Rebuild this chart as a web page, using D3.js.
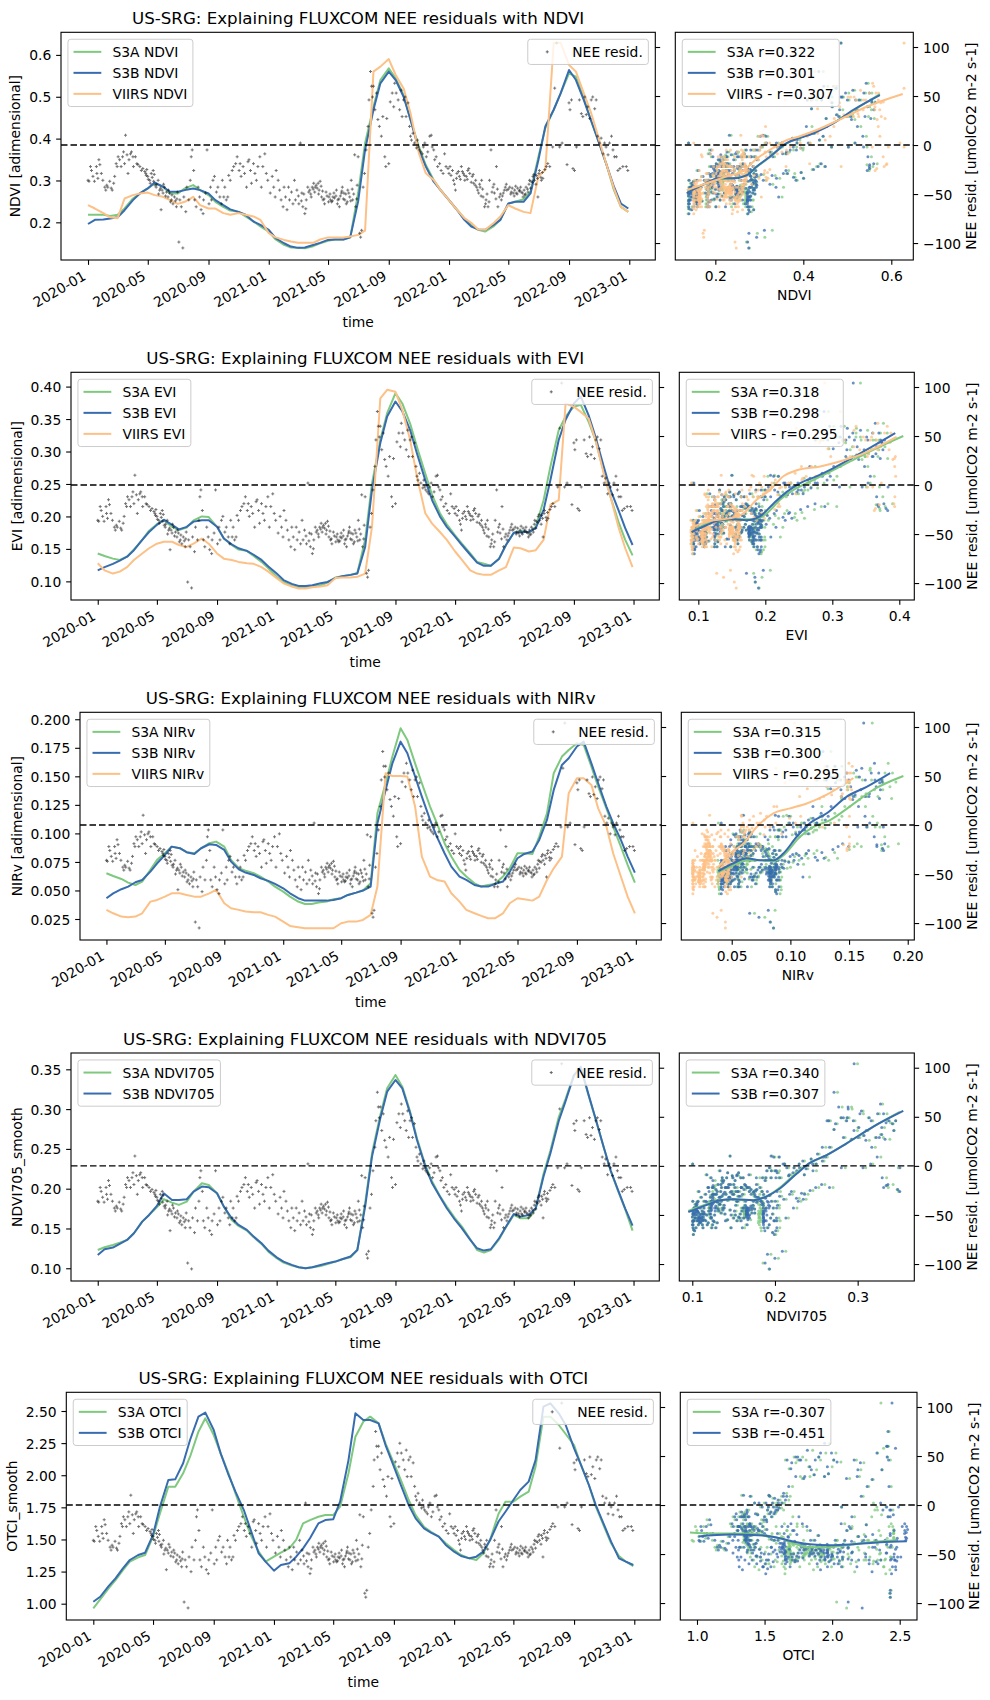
<!DOCTYPE html>
<html>
<head>
<meta charset="utf-8">
<script src="https://cdn.jsdelivr.net/npm/d3@7"></script>
<style>
  body { margin: 0; background: #fff; }
  svg text { font-family: "DejaVu Sans", sans-serif; }
</style>
</head>
<body>
<svg id="chart" width="990" height="1700"></svg>
<script>
// --- data ---
const dates = [
  "2020-01-01","2020-01-15","2020-02-01","2020-02-15","2020-03-01","2020-03-15","2020-04-01","2020-04-15","2020-05-01","2020-05-15","2020-06-01","2020-06-15",
  "2020-07-01","2020-07-15","2020-08-01","2020-08-15","2020-09-01","2020-09-15","2020-10-01","2020-10-15","2020-11-01","2020-11-15","2020-12-01","2020-12-15",
  "2021-01-01","2021-01-15","2021-02-01","2021-02-15","2021-03-01","2021-03-15","2021-04-01","2021-04-15","2021-05-01","2021-05-15","2021-06-01","2021-06-15",
  "2021-07-01","2021-07-15","2021-08-01","2021-08-15","2021-09-01","2021-09-15","2021-10-01","2021-10-15","2021-11-01","2021-11-15","2021-12-01","2021-12-15",
  "2022-01-01","2022-01-15","2022-02-01","2022-02-15","2022-03-01","2022-03-15","2022-04-01","2022-04-15","2022-05-01","2022-05-15","2022-06-01","2022-06-15",
  "2022-07-01","2022-07-15","2022-08-01","2022-08-15","2022-09-01","2022-09-15","2022-10-01","2022-10-15","2022-11-01","2022-11-15","2022-12-01","2022-12-15",
  "2022-12-30"
];
const timeTicks = ["2020-01","2020-05","2020-09","2021-01","2021-05","2021-09","2022-01","2022-05","2022-09","2023-01"];

const ndviS3A = [0.218,0.218,0.218,0.215,0.218,0.233,0.257,0.269,0.281,0.293,0.285,0.269,0.269,0.281,0.289,0.277,0.265,0.249,0.237,0.228,0.225,0.214,0.202,0.190,
  0.178,0.159,0.146,0.140,0.139,0.138,0.143,0.150,0.156,0.159,0.159,0.164,0.270,0.389,0.476,0.540,0.568,0.544,0.504,0.445,0.381,0.337,0.301,0.277,
  0.253,0.233,0.210,0.194,0.182,0.178,0.190,0.206,0.244,0.249,0.255,0.273,0.357,0.425,0.469,0.508,0.556,0.548,0.496,0.445,0.389,0.341,0.277,0.237,0.225];
const ndviS3B = [0.196,0.206,0.207,0.209,0.212,0.229,0.253,0.269,0.281,0.295,0.285,0.273,0.273,0.277,0.281,0.277,0.269,0.253,0.241,0.231,0.225,0.218,0.202,0.194,
  0.182,0.162,0.150,0.142,0.139,0.140,0.146,0.151,0.158,0.159,0.159,0.164,0.250,0.373,0.469,0.532,0.560,0.540,0.500,0.445,0.373,0.333,0.297,0.277,
  0.253,0.233,0.206,0.190,0.183,0.182,0.194,0.206,0.245,0.249,0.249,0.269,0.349,0.429,0.469,0.508,0.564,0.540,0.492,0.445,0.389,0.341,0.285,0.245,0.233];
const ndviVIIRS = [0.241,0.233,0.222,0.212,0.210,0.257,0.265,0.269,0.271,0.265,0.261,0.253,0.244,0.249,0.261,0.241,0.233,0.233,0.222,0.218,0.222,0.218,0.214,0.206,
  0.174,0.164,0.158,0.154,0.151,0.151,0.151,0.159,0.164,0.164,0.164,0.166,0.170,0.180,0.560,0.572,0.590,0.552,0.520,0.461,0.365,0.317,0.301,0.277,
  0.253,0.233,0.210,0.199,0.183,0.182,0.198,0.214,0.241,0.233,0.225,0.222,0.310,0.325,0.629,0.629,0.576,0.560,0.508,0.464,0.397,0.341,0.281,0.237,0.225];

const eviS3A = [0.143,0.139,0.135,0.133,0.138,0.149,0.164,0.178,0.188,0.194,0.184,0.179,0.183,0.194,0.200,0.199,0.184,0.166,0.156,0.149,0.147,0.139,0.130,0.120,
  0.107,0.099,0.093,0.091,0.091,0.092,0.094,0.098,0.106,0.108,0.110,0.113,0.164,0.251,0.318,0.359,0.390,0.374,0.343,0.307,0.266,0.233,0.205,0.188,
  0.171,0.158,0.143,0.130,0.127,0.124,0.135,0.156,0.175,0.178,0.175,0.184,0.225,0.277,0.333,0.354,0.369,0.372,0.346,0.318,0.269,0.230,0.192,0.164,0.140];
const eviS3B = [0.117,0.122,0.127,0.132,0.138,0.148,0.164,0.176,0.187,0.195,0.187,0.180,0.184,0.192,0.194,0.194,0.184,0.166,0.157,0.151,0.147,0.141,0.133,0.123,
  0.112,0.102,0.096,0.093,0.093,0.094,0.097,0.099,0.105,0.108,0.110,0.112,0.153,0.241,0.313,0.354,0.377,0.362,0.333,0.297,0.256,0.225,0.200,0.184,
  0.169,0.156,0.141,0.129,0.124,0.124,0.135,0.156,0.175,0.176,0.176,0.182,0.210,0.256,0.318,0.349,0.374,0.385,0.356,0.323,0.277,0.241,0.210,0.182,0.156];
const eviVIIRS = [0.128,0.117,0.112,0.115,0.122,0.133,0.143,0.151,0.158,0.161,0.161,0.156,0.153,0.158,0.166,0.158,0.143,0.135,0.133,0.130,0.128,0.127,0.122,0.115,
  0.105,0.097,0.092,0.089,0.089,0.091,0.092,0.094,0.105,0.106,0.106,0.107,0.112,0.184,0.382,0.395,0.392,0.364,0.318,0.261,0.205,0.189,0.176,0.164,
  0.146,0.133,0.117,0.112,0.110,0.110,0.117,0.122,0.152,0.151,0.146,0.148,0.164,0.218,0.225,0.374,0.369,0.361,0.351,0.318,0.266,0.230,0.184,0.151,0.122];

const nirvS3A = [0.0651,0.0627,0.0601,0.0569,0.0548,0.0578,0.0680,0.0768,0.0826,0.0884,0.0870,0.0835,0.0826,0.0870,0.0914,0.0928,0.0884,0.0768,0.0695,0.0674,0.0651,0.0622,0.0578,0.0534,
  0.0490,0.0446,0.0403,0.0382,0.0382,0.0394,0.0403,0.0423,0.0432,0.0461,0.0481,0.0499,0.0563,0.1176,0.1439,0.1673,0.1921,0.1819,0.1614,0.1439,0.1235,0.1089,0.0914,0.0797,
  0.0680,0.0622,0.0563,0.0534,0.0548,0.0557,0.0622,0.0695,0.0826,0.0826,0.0820,0.0972,0.1176,0.1527,0.1673,0.1731,0.1790,0.1775,0.1585,0.1410,0.1220,0.1060,0.0884,0.0724,0.0569];
const nirvS3B = [0.0432,0.0475,0.0511,0.0534,0.0572,0.0592,0.0665,0.0738,0.0811,0.0884,0.0870,0.0835,0.0820,0.0870,0.0905,0.0899,0.0855,0.0753,0.0686,0.0657,0.0636,0.0607,0.0584,0.0557,
  0.0519,0.0475,0.0432,0.0411,0.0411,0.0411,0.0411,0.0417,0.0432,0.0461,0.0481,0.0499,0.0534,0.1089,0.1381,0.1614,0.1804,0.1702,0.1498,0.1322,0.1118,0.0972,0.0826,0.0709,
  0.0622,0.0592,0.0548,0.0534,0.0534,0.0557,0.0578,0.0665,0.0782,0.0820,0.0841,0.0943,0.1118,0.1381,0.1600,0.1658,0.1761,0.1804,0.1614,0.1439,0.1235,0.1089,0.0943,0.0797,0.0657];
const nirvVIIRS = [0.0330,0.0300,0.0271,0.0265,0.0271,0.0300,0.0402,0.0417,0.0446,0.0475,0.0475,0.0461,0.0446,0.0446,0.0475,0.0505,0.0388,0.0344,0.0330,0.0315,0.0309,0.0309,0.0286,0.0271,
  0.0227,0.0189,0.0178,0.0169,0.0169,0.0169,0.0169,0.0169,0.0213,0.0227,0.0227,0.0242,0.0286,0.0534,0.1527,0.1503,0.1503,0.1498,0.1235,0.0797,0.0622,0.0592,0.0578,0.0475,
  0.0402,0.0330,0.0300,0.0277,0.0256,0.0256,0.0300,0.0388,0.0432,0.0423,0.0411,0.0446,0.0592,0.0694,0.0797,0.1352,0.1483,0.1483,0.1425,0.1220,0.1060,0.0826,0.0622,0.0446,0.0300];

const n705S3A = [0.1230,0.1264,0.1293,0.1322,0.1356,0.1440,0.1586,0.1670,0.1766,0.1867,0.1825,0.1796,0.1837,0.1963,0.2068,0.2047,0.1942,0.1775,0.1607,0.1532,0.1473,0.1389,0.1306,0.1209,
  0.1126,0.1071,0.1033,0.1013,0.1000,0.1013,0.1029,0.1054,0.1084,0.1113,0.1138,0.1230,0.1817,0.2445,0.2926,0.3261,0.3429,0.3282,0.2968,0.2633,0.2298,0.2089,0.1909,0.1775,
  0.1628,0.1523,0.1364,0.1230,0.1197,0.1230,0.1364,0.1515,0.1670,0.1628,0.1628,0.1754,0.2190,0.2480,0.2900,0.3130,0.3430,0.3513,0.3170,0.2880,0.2520,0.2230,0.1960,0.1740,0.1473];
const n705S3B = [0.1167,0.1239,0.1260,0.1306,0.1356,0.1440,0.1586,0.1670,0.1783,0.1942,0.1858,0.1858,0.1867,0.1963,0.2026,0.2018,0.1942,0.1775,0.1628,0.1544,0.1482,0.1398,0.1314,0.1222,
  0.1138,0.1084,0.1042,0.1013,0.1000,0.1013,0.1042,0.1063,0.1084,0.1113,0.1147,0.1230,0.1775,0.2403,0.2884,0.3219,0.3366,0.3261,0.2947,0.2612,0.2277,0.2068,0.1900,0.1754,
  0.1607,0.1502,0.1356,0.1251,0.1222,0.1239,0.1377,0.1523,0.1683,0.1649,0.1670,0.1754,0.2157,0.2445,0.2850,0.3100,0.3420,0.3533,0.3182,0.2889,0.2520,0.2231,0.1972,0.1750,0.1536];

const otciS3A = [0.964,1.034,1.119,1.184,1.262,1.327,1.361,1.379,1.522,1.703,1.911,1.911,2.015,2.144,2.339,2.443,2.313,2.170,2.015,1.859,1.677,1.535,1.405,1.327,
  1.366,1.397,1.431,1.496,1.625,1.651,1.677,1.690,1.690,1.755,2.015,2.300,2.417,2.456,2.404,2.248,2.093,1.963,1.807,1.690,1.599,1.560,1.522,1.470,
  1.418,1.379,1.353,1.340,1.392,1.500,1.700,1.794,1.794,1.833,1.872,2.067,2.456,2.456,2.391,2.321,2.235,2.080,1.924,1.755,1.599,1.470,1.371,1.327,1.293];
const otciS3B = [1.015,1.054,1.137,1.197,1.275,1.340,1.379,1.397,1.535,1.755,1.963,1.968,2.093,2.274,2.456,2.487,2.352,2.170,2.002,1.872,1.729,1.573,1.392,1.327,
  1.257,1.301,1.314,1.366,1.431,1.509,1.625,1.651,1.657,1.794,2.118,2.482,2.430,2.430,2.404,2.235,2.067,1.924,1.768,1.664,1.586,1.553,1.522,1.457,
  1.405,1.371,1.353,1.366,1.405,1.496,1.640,1.716,1.807,1.885,1.950,2.118,2.534,2.560,2.482,2.391,2.209,2.080,1.924,1.768,1.612,1.483,1.353,1.327,1.301];

// NEE residuals: [days since 2020-01-01, umolCO2 m-2 s-1]
const neeResid = [
  [0,-36],[2,-37],[5,-22],[7,-26],[10,-32],[13,-37],[17,-22],[18,-29],[20,-34],[22,-15],[24,-20],
  [27,-29],[30,-36],[34,-43],[36,-46],[38,-41],[40,-43],[44,-37],[47,-44],[49,-46],[52,-39],[54,-32],
  [57,-19],[59,-22],[61,-12],[64,-15],[67,-22],[70,-12],[72,-7],[74,-19],[76,10],[79,-10],[81,-29],[83,-15],
  [86,-9],[88,-7],[91,-12],[92,-22],[96,-12],[99,-19],[101,-20],[105,-22],[108,-26],[111,-24],[115,-27],[117,-29],
  [118,-31],[121,-32],[125,-36],[128,-29],[132,-26],[133,-37],[136,-41],[138,-43],[142,-36],[145,-46],[148,-66],[150,-46],
  [152,-49],[155,-43],[159,-48],[162,-53],[165,-49],[169,-56],[172,-60],[175,-53],[179,-63],[181,-48],
  [184,-99],[186,-56],[189,-63],[192,-105],[194,-53],[198,-68],[200,-43],[204,-56],[207,-36],[209,-12],[211,-5],
  [214,-26],[216,-56],[219,-63],[223,-43],[226,-53],[229,-66],[233,-70],[234,-56],[238,-49],[241,-5],
  [245,-60],[248,-43],[250,-56],[253,-36],[256,-32],[260,-48],[263,-43],[267,-53],[270,-60],[272,-36],
  [275,-53],[277,-43],[280,-56],[283,-53],[285,-31],[288,-36],[292,-26],[295,-22],[299,-19],[302,-12],
  [306,-26],[308,-19],[310,-32],[314,-22],[317,-29],[321,-43],[324,-17],[326,-15],[329,-26],[331,-39],
  [335,-19],[338,-29],[341,-36],[344,-22],[348,-12],[351,-43],[354,-22],[358,-9],[361,-29],[364,-36],
  [369,-49],[373,-32],[376,-43],[379,-53],[381,-26],[385,-36],[388,-46],[391,-56],[395,-63],[397,-43],
  [400,-53],[403,-66],[406,-43],[408,-56],[412,-48],[415,-60],[418,-36],[420,-56],[423,-46],
  [427,-60],[430,2],[433,-49],[435,-63],[439,-70],[442,-56],[445,-43],[449,-46],[452,-53],[454,-43],
  [457,-39],[460,-43],[462,-41],[466,-39],[468,-46],[470,-37],[473,-53],[476,-56],[479,-60],[482,-48],
  [488,-53],[491,-56],[493,-58],[496,-53],[499,-54],[503,-46],[506,-56],[509,-63],[513,-49],[515,-43],
  [518,-49],[520,-56],[523,-60],[526,-46],[530,-53],[533,-36],[536,-56],[540,-10],[542,-63],[545,-41],
  [547,-12],[550,-90],[552,-94],[554,-87],[557,-43],[560,-29],[563,-5],[567,19],[569,46],[572,75],
  [574,60],[576,49],[578,60],[581,36],[584,53],[587,26],[590,19],[594,9],[597,29],[601,-12],[603,-22],[605,27],
  [609,-19],[612,44],[616,53],[619,39],[621,63],[624,53],[628,46],[631,36],[634,56],[636,29],
  [639,46],[642,49],[644,29],[648,43],[651,19],[653,9],[655,5],[658,12],[661,2],[665,-3],[667,5],
  [669,-2],[671,-5],[674,-7],[677,-9],[679,-2],[682,2],[685,-12],[688,-7],[692,9],[695,10],[697,-2],
  [700,-5],[702,-15],[705,-12],[708,-22],[712,-19],[715,-26],[719,-29],[722,-9],[725,-22],
  [731,-29],[733,-22],[738,-26],[740,-36],[744,-46],[747,-29],[752,-32],[756,-22],
  [760,-29],[763,-36],[766,-32],[769,-26],[773,-29],[778,-32],[781,-39],[785,-36],[787,-43],
  [791,-49],[794,-43],[797,-36],[800,-53],[803,-63],[806,-56],[810,-63],[813,-36],[816,-5],
  [820,-43],[823,-49],[827,-22],[830,-63],[833,-53],[837,-56],[841,-49],[845,-43],[848,-46],
  [854,-43],[857,-48],[861,-49],[864,-46],[867,-49],[870,-44],[874,-46],[877,-48],[881,-53],[884,-51],[887,-43],
  [891,-48],[894,-36],[897,-37],[901,-32],[904,-36],[908,-31],[911,-53],[914,-26],[918,-36],[921,-34],
  [928,-22],[931,-19],[935,-22],[941,-2],[945,58],[949,104],[955,-2],[960,2],[970,-20],[974,43],[976,36],[979,46],[982,-24],[985,-26],[989,-2],
  [995,46],[999,32],[1002,29],[1006,49],[1009,31],[1012,39],[1016,27],[1019,46],[1022,49],[1026,37],[1029,46],
  [1032,9],[1036,2],[1039,7],[1043,-9],[1046,2],[1049,-2],[1053,-10],[1056,2],[1060,9],[1063,-5],[1066,-12],[1070,-12],[1073,-26],[1077,-24],[1083,-22],[1090,-22],[1093,-26],
  // denser parts of the cloud
  [426,-52],[432,-57],[437,-50],[441,-65],[447,-48],[451,-50],[456,-45],[459,-48],[464,-44],[467,-50],[472,-42],[475,-47],[478,-55],[484,-52],
  [487,-58],[490,-50],[495,-57],[498,-49],[502,-52],[505,-60],[508,-55],[511,-52],[514,-47],[517,-55],[522,-50],[525,-58],[528,-49],[532,-57],[535,-45],[538,-50],[544,-55],
  [729,-24],[735,-31],[742,-40],[746,-34],[750,-27],[754,-35],[758,-27],[762,-31],[768,-35],[771,-24],[776,-38],[780,-30],[784,-41],[789,-46],
  [793,-40],[796,-52],[799,-45],[805,-60],[808,-50],[812,-58],[818,-48],[822,-40],[826,-55],[829,-45],[835,-50],[839,-52],[843,-46],[847,-40],
  [851,-45],[856,-50],[859,-44],[863,-52],[866,-42],[869,-50],[873,-47],[876,-43],[880,-49],[883,-46],[886,-50],[890,-45],[893,-40],[896,-44],
  [900,-38],[903,-30],[907,-40],[910,-34],[913,-29],[917,-33],[920,-28],[925,-25],
  [119,-25],[122,-35],[126,-39],[130,-33],[134,-30],[139,-40],[143,-50],[147,-44],[153,-40],[157,-52],[163,-46],[167,-58],[170,-51],[177,-57],[180,-55]
];
const neeDomain = [-117.3, 115];
const neeTicks = [-100, -50, 0, 50, 100];

// smoothed fits in the scatter panels: [index value, NEE resid]
const fitNdviS3A = [[0.137,-48],[0.165,-42],[0.21,-35],[0.24,-34],[0.27,-31],[0.295,-22],[0.325,-12],[0.36,1],[0.39,7],[0.42,12],[0.47,23],[0.52,37],[0.574,52]];
const fitNdviS3B = [[0.135,-49],[0.165,-42],[0.211,-34],[0.241,-34],[0.271,-31],[0.294,-22],[0.324,-12],[0.362,2],[0.392,7],[0.423,12],[0.468,22],[0.514,36],[0.574,51]];
const fitNdviVIIRS = [[0.135,-46],[0.18,-39],[0.226,-32],[0.264,-26],[0.294,-14],[0.324,-5],[0.362,5],[0.392,9],[0.423,14],[0.483,26],[0.544,39],[0.626,52]];
const fitEviS3A = [[0.090,-48],[0.122,-37],[0.152,-35],[0.182,-35],[0.202,-29],[0.222,-15],[0.242,-5],[0.262,2],[0.292,12],[0.321,22],[0.361,36],[0.406,50]];
const fitEviS3B = [[0.090,-48],[0.112,-41],[0.132,-36],[0.152,-35],[0.172,-36],[0.192,-32],[0.212,-19],[0.232,-7],[0.252,2],[0.277,9],[0.301,17],[0.341,32],[0.394,53]];
const fitEviVIIRS = [[0.090,-43],[0.122,-36],[0.147,-34],[0.167,-29],[0.187,-15],[0.207,-5],[0.227,9],[0.247,15],[0.282,19],[0.311,24],[0.346,32],[0.396,49]];
const fitNirvS3A = [[0.0386,-48],[0.0514,-41],[0.0628,-36],[0.0741,-36],[0.0855,-37],[0.094,-31],[0.1082,-12],[0.1196,-2],[0.1338,5],[0.1509,19],[0.1707,36],[0.1963,50]];
const fitNirvS3B = [[0.0386,-47],[0.0514,-39],[0.0628,-34],[0.0741,-36],[0.0855,-36],[0.094,-29],[0.1054,-12],[0.1168,2],[0.131,12],[0.148,29],[0.165,39],[0.185,53]];
const fitNirvVIIRS = [[0.0386,-43],[0.0486,-29],[0.0599,-19],[0.0713,-2],[0.0855,12],[0.0997,17],[0.1139,22],[0.131,31],[0.1537,48]];
const fitN705S3A = [[0.0952,-46],[0.117,-39],[0.1335,-35],[0.1496,-34],[0.1738,-35],[0.19,-31],[0.206,-22],[0.2262,-7],[0.2423,3],[0.2625,11],[0.2867,23],[0.319,40],[0.351,55]];
const fitN705S3B = [[0.0952,-47],[0.117,-40],[0.1335,-35],[0.1496,-34],[0.1738,-35],[0.19,-31],[0.206,-23],[0.2262,-8],[0.2423,3],[0.2625,11],[0.2867,23],[0.319,40],[0.3552,56]];
const fitOtciS3A = [[0.948,-28],[1.121,-29],[1.368,-29],[1.516,-31],[1.615,-34],[1.714,-39],[1.812,-43],[1.96,-43],[2.109,-41],[2.281,-38],[2.479,-36]];
const fitOtciS3B = [[1.01,-32],[1.244,-30],[1.491,-31],[1.615,-34],[1.738,-38],[1.837,-40],[1.985,-41],[2.158,-40],[2.356,-38],[2.553,-37]];

// --- style / layout ---
const FS = 13.89, FONT = "DejaVu Sans", TICK = 4.86;
const GREEN = "#7fc97f", BLUE = "#386cb0", ORANGE = "#fdc086";

const panels = [
  { idx: "NDVI", yLabel: "NDVI [adimensional]", yDomain: [0.110, 0.654], yTicks: [0.2,0.3,0.4,0.5,0.6], yFmt: ".1f",
    sDomain: [0.109, 0.65], sTicks: [0.2,0.4,0.6], sFmt: ".1f",
    series: [
      { label: "S3A NDVI", values: ndviS3A, color: GREEN, fit: fitNdviS3A, fitLabel: "S3A r=0.322" },
      { label: "S3B NDVI", values: ndviS3B, color: BLUE, fit: fitNdviS3B, fitLabel: "S3B r=0.301" },
      { label: "VIIRS NDVI", values: ndviVIIRS, color: ORANGE, fit: fitNdviVIIRS, fitLabel: "VIIRS - r=0.307" } ] },
  { idx: "EVI", yLabel: "EVI [adimensional]", yDomain: [0.0713, 0.422], yTicks: [0.10,0.15,0.20,0.25,0.30,0.35,0.40], yFmt: ".2f",
    sDomain: [0.0716, 0.4224], sTicks: [0.1,0.2,0.3,0.4], sFmt: ".1f",
    series: [
      { label: "S3A EVI", values: eviS3A, color: GREEN, fit: fitEviS3A, fitLabel: "S3A r=0.318" },
      { label: "S3B EVI", values: eviS3B, color: BLUE, fit: fitEviS3B, fitLabel: "S3B r=0.298" },
      { label: "VIIRS EVI", values: eviVIIRS, color: ORANGE, fit: fitEviVIIRS, fitLabel: "VIIRS - r=0.295" } ] },
  { idx: "NIRv", yLabel: "NIRv [adimensional]", yDomain: [0.0066, 0.2061], yTicks: [0.025,0.05,0.075,0.1,0.125,0.15,0.175,0.2], yFmt: ".3f",
    sDomain: [0.00703, 0.2056], sTicks: [0.05,0.10,0.15,0.20], sFmt: ".2f",
    series: [
      { label: "S3A NIRv", values: nirvS3A, color: GREEN, fit: fitNirvS3A, fitLabel: "S3A r=0.315" },
      { label: "S3B NIRv", values: nirvS3B, color: BLUE, fit: fitNirvS3B, fitLabel: "S3B r=0.300" },
      { label: "VIIRS NIRv", values: nirvVIIRS, color: ORANGE, fit: fitNirvVIIRS, fitLabel: "VIIRS - r=0.295" } ] },
  { idx: "NDVI705", yLabel: "NDVI705_smooth", yDomain: [0.084, 0.3705], yTicks: [0.10,0.15,0.20,0.25,0.30,0.35], yFmt: ".2f",
    sDomain: [0.0843, 0.3685], sTicks: [0.1,0.2,0.3], sFmt: ".1f",
    series: [
      { label: "S3A NDVI705", values: n705S3A, color: GREEN, fit: fitN705S3A, fitLabel: "S3A r=0.340" },
      { label: "S3B NDVI705", values: n705S3B, color: BLUE, fit: fitN705S3B, fitLabel: "S3B r=0.307" } ] },
  { idx: "OTCI", yLabel: "OTCI_smooth", yDomain: [0.873, 2.6456], yTicks: [1.0,1.25,1.5,1.75,2.0,2.25,2.5], yFmt: ".2f",
    sDomain: [0.8765, 2.628], sTicks: [1.0,1.5,2.0,2.5], sFmt: ".1f",
    series: [
      { label: "S3A OTCI", values: otciS3A, color: GREEN, fit: fitOtciS3A, fitLabel: "S3A r=-0.307" },
      { label: "S3B OTCI", values: otciS3B, color: BLUE, fit: fitOtciS3B, fitLabel: "S3B r=-0.451" } ] }
];

const layout = [
  { top: 32.3, bottom: 260, left: 61, right: 655.3, sLeft: 675.3, sRight: 913.3 },
  { top: 372.3, bottom: 600, left: 71, right: 659.3, sLeft: 679.3, sRight: 914.3 },
  { top: 712.3, bottom: 940, left: 80, right: 661.3, sLeft: 681.3, sRight: 914.3 },
  { top: 1053, bottom: 1281, left: 71, right: 659.3, sLeft: 679.3, sRight: 914.3 },
  { top: 1392.3, bottom: 1620, left: 66.3, right: 660.3, sLeft: 680.3, sRight: 917 }
];

const svg = d3.select("#chart");
const parseDay = d3.utcParse("%Y-%m-%d");
const gridDates = dates.map(parseDay);
const neeDates = neeResid.map(p => d3.utcDay.offset(gridDates[0], p[0]));
const tickDates = timeTicks.map(d3.utcParse("%Y-%m"));
const span = gridDates[gridDates.length - 1] - gridDates[0];
const timeDomain = [new Date(+gridDates[0] - 0.05 * span), new Date(+gridDates[gridDates.length - 1] + 0.05 * span)];
const bis = d3.bisector(d => +d).right;

// index value on the date of each NEE sample
function valueAt(values, date) {
  const i = bis(gridDates, +date);
  if (i <= 0) return values[0];
  if (i >= gridDates.length) return values[values.length - 1];
  const f = (date - gridDates[i - 1]) / (gridDates[i] - gridDates[i - 1]);
  return values[i - 1] + f * (values[i] - values[i - 1]);
}

function styleAxis(g) {
  g.attr("font-size", FS).attr("font-family", FONT);
  g.select(".domain").remove();
  g.selectAll(".tick line").attr("stroke", "#000").attr("stroke-width", 1.1);
  g.selectAll(".tick text").attr("fill", "#000");
}

function maxTextWidth(g) {
  return d3.max(g.selectAll(".tick text").nodes(), n => n.getComputedTextLength()) || 0;
}

const PLUS = "M-1.5,0H1.5M0,-1.5V1.5";

function legend(g, items, x, y, alignRight) {
  const lg = g.append("g");
  const box = lg.append("rect");
  let maxW = 0;
  items.forEach((it, k) => {
    const cy = 5.56 + 7.05 + k * 21;
    if (it.marker) {
      lg.append("path").attr("d", PLUS).attr("transform", `translate(${5.56 + 13.9},${cy})`)
        .attr("stroke", "#000").attr("stroke-width", 1).attr("opacity", 0.6);
    } else {
      lg.append("line").attr("x1", 5.56).attr("x2", 5.56 + 27.8).attr("y1", cy).attr("y2", cy)
        .attr("stroke", it.color).attr("stroke-width", 2);
    }
    const t = lg.append("text").attr("x", 5.56 + 27.8 + 11.1).attr("y", cy).attr("dy", "0.365em")
      .attr("font-size", FS).attr("fill", "#000").text(it.label);
    maxW = Math.max(maxW, t.node().getComputedTextLength());
  });
  const w = 5.56 + 27.8 + 11.1 + maxW + 5.56;
  const h = 11.12 + items.length * 14.1 + (items.length - 1) * 6.94;
  box.attr("width", w).attr("height", h).attr("rx", 2.8)
    .attr("fill", "#fff").attr("fill-opacity", 0.8).attr("stroke", "#cccccc").attr("stroke-width", 1);
  lg.attr("transform", `translate(${alignRight ? x - w : x},${y})`);
}

panels.forEach((p, i) => {
  const b = layout[i];
  const g = svg.append("g");

  // ---------- time series panel ----------
  const x = d3.scaleUtc().domain(timeDomain).range([b.left, b.right]);
  const y = d3.scaleLinear().domain(p.yDomain).range([b.bottom, b.top]);
  const yN = d3.scaleLinear().domain(neeDomain).range([b.bottom, b.top]);

  const clipId = "clip" + i;
  svg.append("clipPath").attr("id", clipId).append("rect")
    .attr("x", b.left).attr("y", b.top).attr("width", b.right - b.left).attr("height", b.bottom - b.top);

  const line = d3.line().x((d, k) => x(gridDates[k])).y(d => y(d));
  p.series.forEach(s => {
    g.append("path").datum(s.values).attr("clip-path", `url(#${clipId})`)
      .attr("fill", "none").attr("stroke", s.color).attr("stroke-width", 2)
      .attr("stroke-linejoin", "round").attr("d", line);
  });

  legend(g, p.series.map(s => ({ label: s.label, color: s.color })), b.left + 6.94, b.top + 6.94, false);

  g.append("g").selectAll("path").data(neeResid).join("path")
    .attr("d", PLUS)
    .attr("transform", (d, k) => `translate(${x(neeDates[k])},${yN(d[1])})`)
    .attr("stroke", "#000").attr("stroke-width", 1).attr("opacity", 0.55);

  g.append("line").attr("x1", b.left).attr("x2", b.right).attr("y1", yN(0)).attr("y2", yN(0))
    .attr("stroke", "#000").attr("stroke-width", 1.3).attr("stroke-dasharray", "6.5,3");

  legend(g, [{ label: "NEE resid.", marker: true }], b.right - 6.94, b.top + 6.94, true);

  g.append("rect").attr("x", b.left).attr("y", b.top).attr("width", b.right - b.left).attr("height", b.bottom - b.top)
    .attr("fill", "none").attr("stroke", "#000").attr("stroke-width", 1.1);

  const yAxis = g.append("g").attr("transform", `translate(${b.left},0)`)
    .call(d3.axisLeft(y).tickValues(p.yTicks).tickFormat(d3.format(p.yFmt)).tickSize(TICK).tickPadding(TICK));
  styleAxis(yAxis);
  yAxis.selectAll(".tick text").attr("dy", "0.365em");

  g.append("g").attr("transform", `translate(${b.right},0)`)
    .call(d3.axisRight(yN).tickValues(neeTicks).tickFormat("").tickSize(TICK))
    .call(styleAxis);

  const xAxis = g.append("g").attr("transform", `translate(0,${b.bottom})`)
    .call(d3.axisBottom(x).tickValues(tickDates).tickFormat(d3.utcFormat("%Y-%m")).tickSize(TICK));
  styleAxis(xAxis);
  xAxis.selectAll(".tick text").attr("x", 0).attr("y", 0).attr("dy", null)
    .attr("text-anchor", "end").attr("transform", "translate(-1.5,18.8) rotate(-30)");

  const cx = (b.left + b.right) / 2;
  g.append("text").attr("x", cx).attr("y", b.top - 8.33).attr("text-anchor", "middle")
    .attr("font-size", 16.67).attr("fill", "#000")
    .text(`US-SRG: Explaining FLUXCOM NEE residuals with ${p.idx}`);
  g.append("text").attr("x", cx).attr("y", b.bottom + 67).attr("text-anchor", "middle")
    .attr("font-size", FS).attr("fill", "#000").text("time");

  const ylx = b.left - TICK * 2 - maxTextWidth(yAxis) - 5.56 - 3.3;
  g.append("text").attr("transform", `translate(${ylx},${(b.top + b.bottom) / 2}) rotate(-90)`)
    .attr("text-anchor", "middle").attr("font-size", FS).attr("fill", "#000").text(p.yLabel);

  // ---------- scatter panel ----------
  const sx = d3.scaleLinear().domain(p.sDomain).range([b.sLeft, b.sRight]);
  const sClip = "sclip" + i;
  svg.append("clipPath").attr("id", sClip).append("rect")
    .attr("x", b.sLeft).attr("y", b.top).attr("width", b.sRight - b.sLeft).attr("height", b.bottom - b.top);

  const sg = g.append("g").attr("clip-path", `url(#${sClip})`);
  p.series.forEach(s => {
    sg.append("g").selectAll("circle").data(neeResid).join("circle")
      .attr("cx", (d, k) => sx(valueAt(s.values, neeDates[k]))).attr("cy", d => yN(d[1]))
      .attr("r", 1.5).attr("fill", s.color).attr("opacity", 0.75);
  });
  const fitLine = d3.line().x(d => sx(d[0])).y(d => yN(d[1])).curve(d3.curveMonotoneX);
  p.series.forEach(s => {
    sg.append("path").datum(s.fit).attr("fill", "none").attr("stroke", s.color)
      .attr("stroke-width", 2).attr("d", fitLine);
  });

  g.append("line").attr("x1", b.sLeft).attr("x2", b.sRight).attr("y1", yN(0)).attr("y2", yN(0))
    .attr("stroke", "#000").attr("stroke-width", 1.3).attr("stroke-dasharray", "6.5,3");

  legend(g, p.series.map(s => ({ label: s.fitLabel, color: s.color })), b.sLeft + 6.94, b.top + 6.94, false);

  g.append("rect").attr("x", b.sLeft).attr("y", b.top).attr("width", b.sRight - b.sLeft).attr("height", b.bottom - b.top)
    .attr("fill", "none").attr("stroke", "#000").attr("stroke-width", 1.1);

  const sxAxis = g.append("g").attr("transform", `translate(0,${b.bottom})`)
    .call(d3.axisBottom(sx).tickValues(p.sTicks).tickFormat(d3.format(p.sFmt)).tickSize(TICK).tickPadding(TICK));
  styleAxis(sxAxis);
  sxAxis.selectAll(".tick text").attr("dy", "0.81em");

  const nAxis = g.append("g").attr("transform", `translate(${b.sRight},0)`)
    .call(d3.axisRight(yN).tickValues(neeTicks).tickFormat(d3.format("d")).tickSize(TICK).tickPadding(TICK));
  styleAxis(nAxis);
  nAxis.selectAll(".tick text").attr("dy", "0.365em");

  g.append("text").attr("x", (b.sLeft + b.sRight) / 2).attr("y", b.bottom + 40).attr("text-anchor", "middle")
    .attr("font-size", FS).attr("fill", "#000").text(p.idx);

  const nlx = b.sRight + TICK * 2 + maxTextWidth(nAxis) + 5.56 + 9;
  g.append("text").attr("transform", `translate(${nlx},${(b.top + b.bottom) / 2}) rotate(-90)`)
    .attr("text-anchor", "middle").attr("font-size", FS).attr("fill", "#000")
    .text("NEE resid. [umolCO2 m-2 s-1]");
});
</script>
</body>
</html>
